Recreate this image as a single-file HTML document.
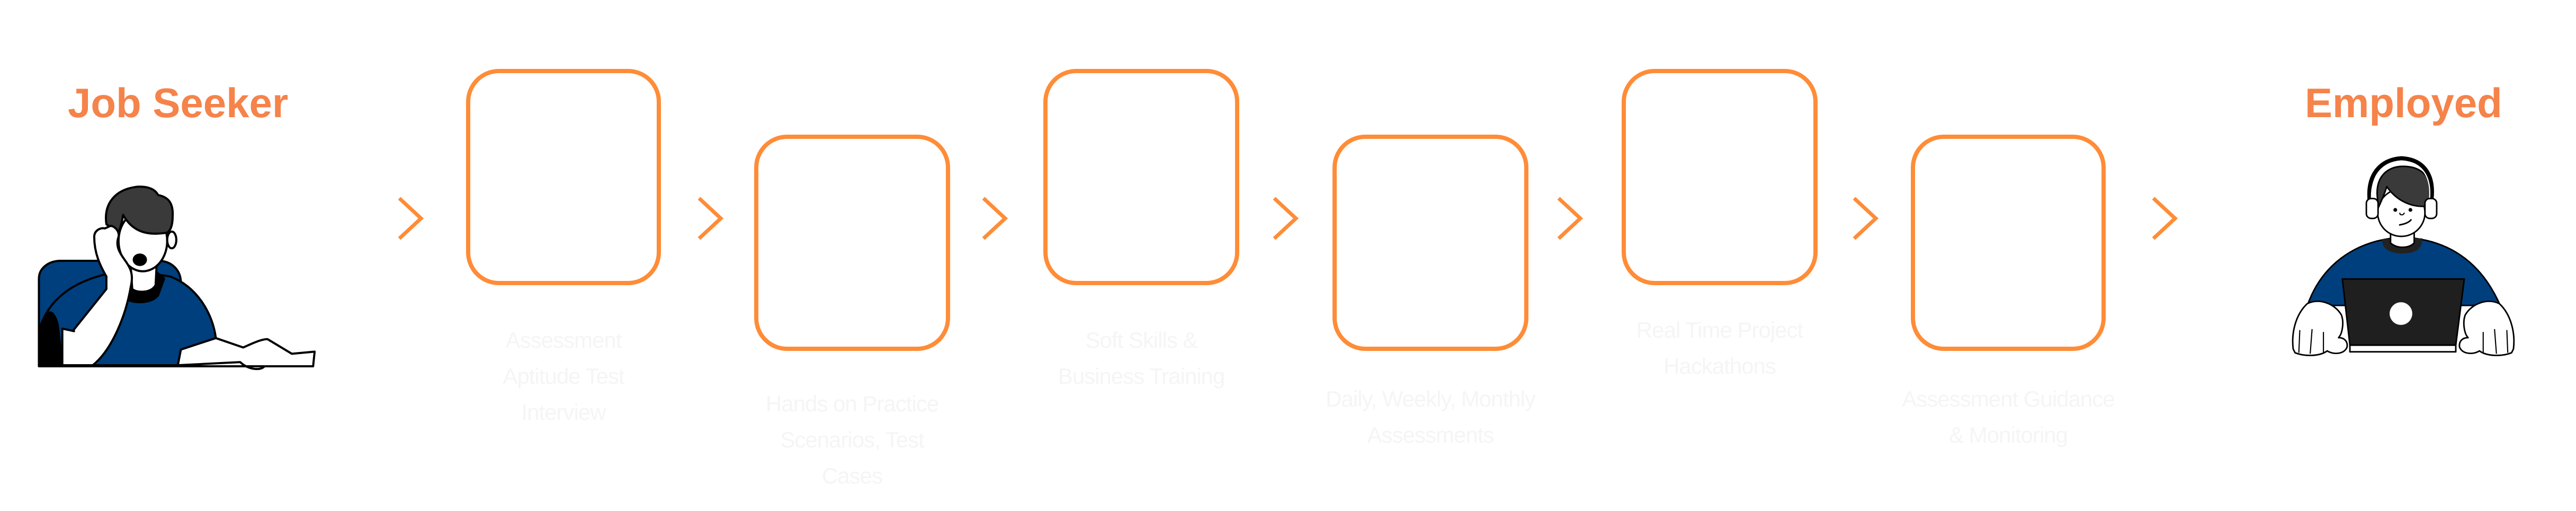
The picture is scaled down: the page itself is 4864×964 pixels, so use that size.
<!DOCTYPE html>
<html><head><meta charset="utf-8"><style>
html,body{margin:0;padding:0;background:#fff;}
#root{position:relative;width:4864px;height:964px;overflow:hidden;background:#fff;font-family:"Liberation Sans",sans-serif;}
.title{position:absolute;font-weight:bold;font-size:78px;color:#f5834a;white-space:nowrap;line-height:1;}
.cap{position:absolute;width:560px;text-align:center;color:#f5f5f5;font-size:42px;line-height:68px;letter-spacing:-1px;}
svg{position:absolute;left:0;top:0;}
</style></head><body>
<div id="root">
<div class="title" style="left:128px;top:155px;">Job Seeker</div>
<div class="title" style="left:4352px;top:155px;">Employed</div>

<svg width="4864" height="964" viewBox="0 0 4864 964">
<g fill="none" stroke="#ff8c37" stroke-width="8">
<rect x="884" y="134" width="360" height="400" rx="58"/>
<rect x="1428" y="258" width="362" height="400" rx="58"/>
<rect x="1974" y="134" width="362" height="400" rx="58"/>
<rect x="2520" y="258" width="362" height="400" rx="58"/>
<rect x="3066" y="134" width="362" height="400" rx="58"/>
<rect x="3612" y="258" width="360" height="400" rx="58"/>
</g>
<g fill="none" stroke="#ff8c37" stroke-width="7" stroke-linecap="butt">
<polyline points="754,374 795,412 754,450"/>
<polyline points="1320,374 1361,412 1320,450"/>
<polyline points="1857,374 1898,412 1857,450"/>
<polyline points="2406,374 2447,412 2406,450"/>
<polyline points="2943,374 2984,412 2943,450"/>
<polyline points="3501,374 3542,412 3501,450"/>
<polyline points="4066,374 4107,412 4066,450"/>
</g>

<g transform="translate(0,100) scale(0.574,0.394)" stroke="#000" stroke-width="4" stroke-linejoin="round">
<path vector-effect="non-scaling-stroke" d="M128,1500 L128,1080 C128,1030 160,995 200,995 L520,995 C565,995 595,1040 595,1100 L595,1500 Z" fill="#003f7d"/>
<path vector-effect="non-scaling-stroke" d="M135,1300 C170,1160 260,1070 420,1040 L560,1070 C650,1120 700,1250 710,1365 L595,1420 L585,1495 L135,1495 Z" fill="#003f7d"/>
<path vector-effect="non-scaling-stroke" d="M135,1495 L135,1300 C150,1250 170,1200 190,1300 L205,1495 Z" fill="#000"/>
<path vector-effect="non-scaling-stroke" d="M420,1180 C440,1200 500,1200 520,1160 L540,1080 L515,1050 L430,1120 Z" fill="#000"/>
<path vector-effect="non-scaling-stroke" d="M435,1130 C450,1150 500,1150 512,1110 L515,1020 L430,1020 Z" fill="#fff"/>
<ellipse vector-effect="non-scaling-stroke" cx="470" cy="900" rx="80" ry="145" fill="#fff"/>
<path vector-effect="non-scaling-stroke" d="M350,820 C340,720 380,650 455,640 C500,638 515,665 520,680 C555,690 570,720 568,780 C568,830 560,850 550,860 C470,880 430,840 405,775 C400,820 395,840 390,860 Z" fill="#3a3a3a"/>
<ellipse vector-effect="non-scaling-stroke" cx="565" cy="895" rx="15" ry="40" fill="#fff"/>
<ellipse vector-effect="non-scaling-stroke" cx="460" cy="990" rx="20" ry="25" fill="#000"/>
<path vector-effect="non-scaling-stroke" d="M205,1495 L205,1320 C240,1330 250,1335 240,1330 L350,1130 L350,1070 C330,1020 310,960 310,880 C310,850 330,835 345,840 L360,830 C370,820 395,850 390,880 C380,920 390,950 410,990 C430,1030 440,1060 430,1120 C415,1250 370,1420 305,1495 Z" fill="#fff"/>
<path vector-effect="non-scaling-stroke" d="M595,1420 L710,1365 L800,1410 C830,1390 860,1370 880,1370 L960,1440 L1035,1430 L1030,1500 L870,1500 C860,1520 820,1520 790,1480 L585,1495 Z" fill="#fff"/>
<line vector-effect="non-scaling-stroke" x1="128" y1="1500" x2="1030" y2="1500"/>
</g>

<g transform="translate(4280,130) scale(0.357)" stroke="#000" stroke-width="8" stroke-linejoin="round">
<path d="M215,1250 C300,1010 500,900 720,890 C950,900 1130,1010 1235,1250 Z" fill="#003f7d"/>
<path d="M610,900 C610,960 660,975 720,975 C790,975 825,950 822,895 Z" fill="#222" stroke="none"/>
<path d="M655,850 L655,920 C690,950 750,950 780,920 L780,850 Z" fill="#fff"/>
<ellipse cx="712" cy="760" rx="125" ry="125" fill="#fff"/>
<path d="M592,720 C560,580 630,515 720,515 C830,515 885,580 870,720 C800,740 700,715 635,622 C620,670 605,700 592,730 Z" fill="#3a3a3a"/>
<path d="M545,700 C530,560 600,480 712,472 C830,478 890,560 870,700" fill="none" stroke="#000" stroke-width="22"/>
<path d="M555,700 C545,575 610,495 712,488 C825,495 875,570 860,700" fill="none" stroke="#fff" stroke-width="6"/>
<rect x="527" y="685" width="62" height="105" rx="25" fill="#fff"/>
<rect x="837" y="685" width="62" height="105" rx="25" fill="#fff"/>
<path d="M700,825 C730,820 755,810 765,795" fill="none"/>
<circle cx="680" cy="745" r="6" fill="#000"/>
<circle cx="760" cy="745" r="6" fill="#000"/>
<path d="M705,760 C700,775 725,775 728,760" fill="none" stroke-width="6"/>
<path d="M400,1110 L1045,1110 L1000,1460 L440,1460 Z" fill="#1f1f1f"/>
<circle cx="710" cy="1293" r="60" fill="#fff" stroke="none"/>
<rect x="440" y="1460" width="560" height="35" fill="#fff"/>
<path d="M140,1480 C130,1400 150,1300 215,1240 C280,1210 360,1240 395,1300 C410,1340 400,1400 380,1420 C410,1420 430,1440 425,1470 C410,1510 350,1510 320,1490 C280,1520 200,1520 150,1500 Z" fill="#fff"/>
<path d="M1305,1480 C1315,1400 1295,1300 1230,1240 C1165,1210 1085,1240 1050,1300 C1035,1340 1045,1400 1065,1420 C1035,1420 1015,1440 1020,1470 C1035,1510 1095,1510 1125,1490 C1165,1520 1245,1520 1295,1500 Z" fill="#fff"/>
<path d="M175,1380 L170,1500 M240,1375 L230,1505 M300,1390 L300,1500 M1270,1380 L1275,1500 M1205,1375 L1215,1505 M1145,1390 L1145,1500" fill="none" stroke-width="6"/>
</g>
</svg>

<div class="cap" style="left:784px;top:608px;">Assessment<br>Aptitude Test<br>Interview</div>
<div class="cap" style="left:1329px;top:728px;">Hands on Practice<br>Scenarios, Test<br>Cases</div>
<div class="cap" style="left:1875px;top:608px;">Soft Skills &amp;<br>Business Training</div>
<div class="cap" style="left:2421px;top:719px;">Daily, Weekly, Monthly<br>Assessments</div>
<div class="cap" style="left:2967px;top:589px;">Real Time Project<br>Hackathons</div>
<div class="cap" style="left:3512px;top:719px;">Assessment Guidance<br>&amp; Monitoring</div>
</div>
</body></html>
